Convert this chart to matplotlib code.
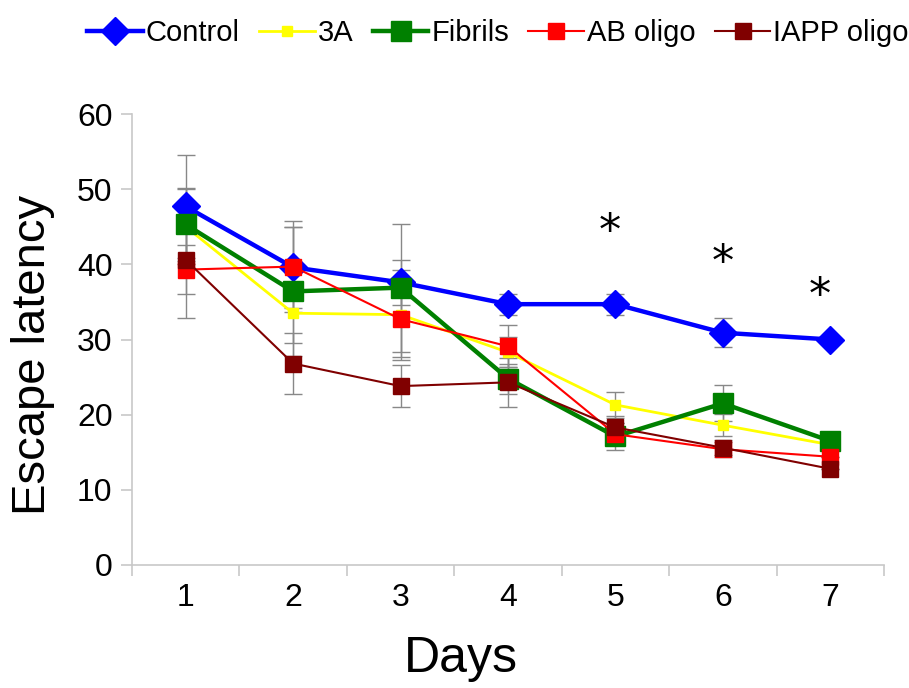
import matplotlib
matplotlib.use("Agg")
import matplotlib.pyplot as plt
import numpy as np

plt.rcParams['font.family'] = ['Liberation Sans', 'DejaVu Sans']

days = [1, 2, 3, 4, 5, 6, 7]
series_names = ["Control", "3A", "Fibrils", "AB oligo", "IAPP oligo"]
control = [47.7, 39.6, 37.6, 34.7, 34.7, 30.9, 30.0]
a3 = [45.0, 33.5, 33.3, 28.3, 21.3, 18.6, 16.0]
fibrils = [45.3, 36.4, 36.9, 24.8, 17.1, 21.5, 16.5]
ab_oligo = [39.3, 39.7, 32.7, 29.1, 17.4, 15.4, 14.4]
iapp_oligo = [40.6, 26.8, 23.8, 24.3, 18.3, 15.6, 12.8]

control_err = [6.9, 5.4, 3.0, 1.4, 1.4, 1.9, 0.0]
a3_err = [5.0, 4.0, 6.0, 2.0, 1.7, 1.5, 0.0]
fibrils_err = [4.9, 8.6, 8.5, 2.0, 1.8, 2.4, 0.0]
ab_oligo_err = [3.3, 6.0, 5.0, 2.8, 1.5, 1.0, 0.0]
iapp_oligo_err = [7.7, 4.1, 2.8, 3.3, 1.5, 1.0, 0.0]

star_x = [4.95, 6.0, 6.9]
star_y = [45.7, 41.6, 37.2]

x_labels = ["1", "2", "3", "4", "5", "6", "7"]
y_ticks = [0, 10, 20, 30, 40, 50, 60]

fig = plt.figure(figsize=(9.09, 6.88), dpi=100)
ax = fig.add_axes([132/909, 1-565/688, (884-132)/909, (565-114)/688])

styles = [
    (control, control_err, "#0000ff", "D", 14, 3.2),
    (a3, a3_err, "#ffff00", "s", 7.5, 2.0),
    (fibrils, fibrils_err, "#008000", "s", 14, 3.2),
    (ab_oligo, ab_oligo_err, "#ff0000", "s", 11.5, 1.5),
    (iapp_oligo, iapp_oligo_err, "#800000", "s", 11.5, 1.5),
]

x = np.array(days)
handles = []
for (vals, errs, col, mk, ms, lw), name in zip(styles, series_names):
    ax.errorbar(x, vals, yerr=errs, fmt='none', ecolor='#888888', elinewidth=1.0,
                capsize=6.5, capthick=1.0, zorder=1)
for (vals, errs, col, mk, ms, lw), name in zip(styles, series_names):
    h, = ax.plot(x, vals, color=col, marker=mk, markersize=ms, linewidth=lw,
                 markeredgecolor=col, label=name, zorder=3)
    handles.append(h)

for sx, sy in zip(star_x, star_y):
    ax.annotate("*", xy=(sx, sy), xytext=(0, -8), textcoords='offset points',
                fontsize=32, ha='center', va='center',
                family=['DejaVu Sans'], color='black')

ax.set_xlim(0.5, 7.5)
ax.set_ylim(0, 60)
ax.set_yticks(y_ticks)
ax.set_yticklabels([str(v) for v in y_ticks], fontsize=23)
ax.set_xticks(x)
ax.set_xticklabels(x_labels, fontsize=23)
ax.set_xticks(np.arange(0.5, 8.0, 1.0), minor=True)
ax.tick_params(axis='x', which='major', length=0, pad=13)
ax.tick_params(axis='x', which='minor', length=8, color='#c8c8c8', width=1.2)
ax.tick_params(axis='y', length=8, color='#c8c8c8', width=1.2, pad=6)
for s in ['top', 'right']:
    ax.spines[s].set_visible(False)
for s in ['left', 'bottom']:
    ax.spines[s].set_color('#c8c8c8')
    ax.spines[s].set_linewidth(1.2)

ax.set_xlabel("Days", fontsize=36)
ax.xaxis.set_label_coords(0.4375, -0.157)
ax.set_ylabel("Escape latency", fontsize=34)
ax.yaxis.set_label_coords(-0.102, 0.466)

fig.legend(handles=handles, loc='upper center', bbox_to_anchor=(0.548, 1.01),
           ncol=5, frameon=False, fontsize=21, handlelength=1.9,
           handletextpad=0.1, columnspacing=0.67, markerscale=1.0)

fig.savefig("out.png", dpi=100)
